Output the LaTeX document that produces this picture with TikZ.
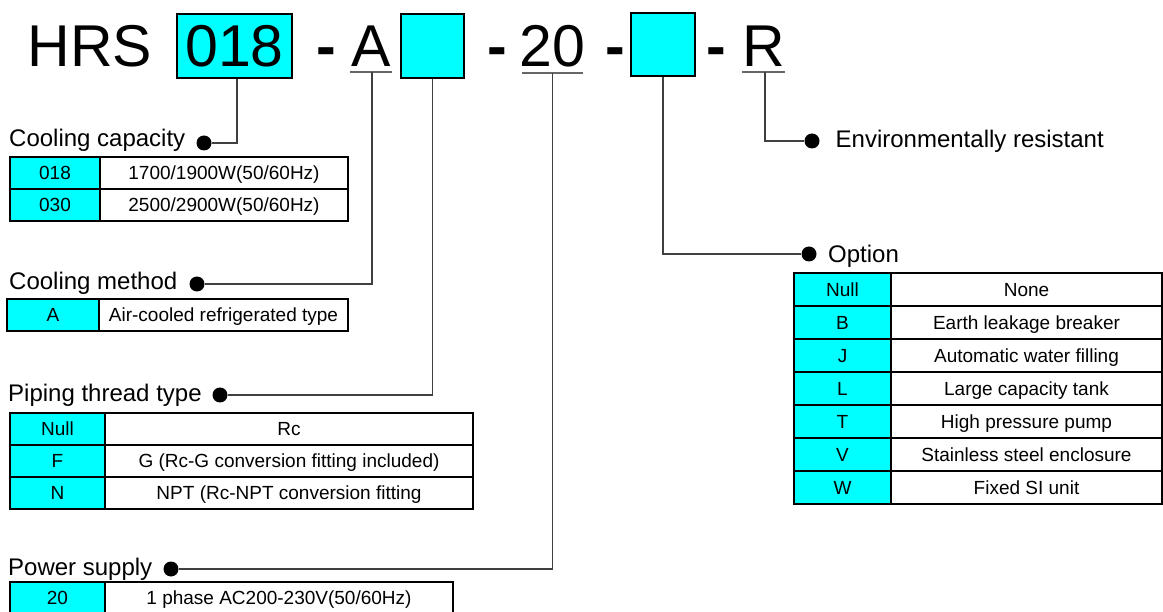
\documentclass[tikz,border=0pt]{standalone}
\usepackage{fontspec}
\setmainfont{Liberation Sans}
\usetikzlibrary{positioning}
\definecolor{codecyan}{HTML}{00FFFF}
\definecolor{linkgray}{HTML}{404040}
\tikzset{
  big/.style={font=\fontsize{59}{64}\selectfont, inner sep=0, anchor=base},
  sep/.style={big, font=\fontsize{59}{64}\selectfont\bfseries},
  codebox/.style={draw=black, fill=codecyan, line width=1.5, inner sep=0},
  title/.style={font=\fontsize{24}{28}\selectfont, inner sep=0, anchor=base west},
  dot/.style={circle, fill=black, inner sep=0, minimum size=15},
  link/.style={draw=linkgray, line width=1.3},
  uline/.style={draw=linkgray!80, line width=2},
  keycell/.style={draw=black, fill=codecyan, line width=1.6, inner sep=0, outer sep=0,
    minimum height=32, text height=13.5, text depth=0,
    font=\fontsize{19}{22}\selectfont},
  desccell/.style={keycell, fill=white},
}
\begin{document}
\begin{tikzpicture}[x=1pt, y=-1pt]
  \useasboundingbox (0,0) rectangle (1163,612);
  % model code
  \node[big, anchor=base west] (hrs) at (27.5,67) {HRS};
  \node[codebox, minimum width=115, minimum height=64,
    font=\fontsize{59}{64}\selectfont] (c018) at (234.5,46) {018};
  \node[sep] (d1) at (326.5,67) {-};
  \node[big] (nA) at (371,67) {A};
  \node[codebox, minimum width=63, minimum height=64] (box2) at (432.5,46) {};
  \node[sep] (d2) at (497.5,67) {-};
  \node[big] (n20) at (552.5,67) {20};
  \node[sep] (d3) at (615,67) {-};
  \node[codebox, minimum width=64, minimum height=63] (box3) at (663,44.5) {};
  \node[sep] (d4) at (716.5,67) {-};
  \node[big] (nR) at (763.5,67) {R};
  \draw[uline] ([xshift=-1.3pt,yshift=-5pt]nA.base west) -- ([xshift=1.3pt,yshift=-5pt]nA.base east);
  \draw[uline] ([xshift=3pt,yshift=-6pt]n20.base west) -- ([xshift=-3pt,yshift=-6pt]n20.base east);
  \draw[uline] ([yshift=-5pt]nR.base west) -- ([yshift=-5pt]nR.base east);
  \coordinate (uA) at ([xshift=1pt,yshift=-5pt]nA.base);
  \coordinate (u20) at ([yshift=-6pt]n20.base);
  \coordinate (uR) at ([xshift=1.5pt,yshift=-5pt]nR.base);

  % titles and dots
  \node[title] (tcap) at (9,147) {Cooling capacity};
  \node[dot] (dcap) at (204,143) {};
  \node[title] (tmeth) at (9,290) {Cooling method};
  \node[dot] (dmeth) at (197,284) {};
  \node[title] (tpipe) at (8,402) {Piping thread type};
  \node[dot] (dpipe) at (220,395) {};
  \node[title] (tpow) at (8,575) {Power supply};
  \node[dot] (dpow) at (171,569) {};
  \node[title] (topt) at (828,263) {Option};
  \node[dot] (dopt) at (809,254) {};
  \node[title] (tenv) at (835.5,148) {Environmentally resistant};
  \node[dot] (denv) at (812,141) {};

  % connectors
  \draw[link] ([xshift=2.5pt]c018.south) |- (dcap);
  \draw[link] (uA) |- (dmeth);
  \draw[link] (box2.south) |- (dpipe);
  \draw[link] (u20) |- (dpow);
  \draw[link] (box3.south) |- (dopt);
  \draw[link] (uR) |- (denv);

  % cooling capacity
  \node[keycell, minimum width=90, anchor=north west] (cap1k) at (10,157) {018};
  \node[desccell, minimum width=248, right=0pt of cap1k] (cap1d) {1700/1900W(50/60Hz)};
  \node[keycell, minimum width=90, below=0pt of cap1k] (cap2k) {030};
  \node[desccell, minimum width=248, right=0pt of cap2k] (cap2d) {2500/2900W(50/60Hz)};

  % cooling method
  \node[keycell, minimum width=92, anchor=north west] (meth1k) at (7,299) {A};
  \node[desccell, minimum width=249, right=0pt of meth1k] (meth1d) {Air-cooled refrigerated type};

  % piping thread type
  \node[keycell, minimum width=95, anchor=north west] (pipe1k) at (10,413) {Null};
  \node[desccell, minimum width=368, right=0pt of pipe1k] (pipe1d) {Rc};
  \node[keycell, minimum width=95, below=0pt of pipe1k] (pipe2k) {F};
  \node[desccell, minimum width=368, right=0pt of pipe2k] (pipe2d) {G (Rc-G conversion fitting included)};
  \node[keycell, minimum width=95, below=0pt of pipe2k] (pipe3k) {N};
  \node[desccell, minimum width=368, right=0pt of pipe3k] (pipe3d) {NPT (Rc-NPT conversion fitting};

  % power supply
  \node[keycell, minimum width=95, anchor=north west] (pow1k) at (10,582) {20};
  \node[desccell, minimum width=348, right=0pt of pow1k] (pow1d) {1 phase AC200-230V(50/60Hz)};

  % option
  \node[keycell, minimum width=97, minimum height=33, anchor=north west] (opt1k) at (794,273) {Null};
  \node[desccell, minimum width=271, minimum height=33, right=0pt of opt1k] (opt1d) {None};
  \node[keycell, minimum width=97, minimum height=33, below=0pt of opt1k] (opt2k) {B};
  \node[desccell, minimum width=271, minimum height=33, right=0pt of opt2k] (opt2d) {Earth leakage breaker};
  \node[keycell, minimum width=97, minimum height=33, below=0pt of opt2k] (opt3k) {J};
  \node[desccell, minimum width=271, minimum height=33, right=0pt of opt3k] (opt3d) {Automatic water filling};
  \node[keycell, minimum width=97, minimum height=33, below=0pt of opt3k] (opt4k) {L};
  \node[desccell, minimum width=271, minimum height=33, right=0pt of opt4k] (opt4d) {Large capacity tank};
  \node[keycell, minimum width=97, minimum height=33, below=0pt of opt4k] (opt5k) {T};
  \node[desccell, minimum width=271, minimum height=33, right=0pt of opt5k] (opt5d) {High pressure pump};
  \node[keycell, minimum width=97, minimum height=33, below=0pt of opt5k] (opt6k) {V};
  \node[desccell, minimum width=271, minimum height=33, right=0pt of opt6k] (opt6d) {Stainless steel enclosure};
  \node[keycell, minimum width=97, minimum height=33, below=0pt of opt6k] (opt7k) {W};
  \node[desccell, minimum width=271, minimum height=33, right=0pt of opt7k] (opt7d) {Fixed SI unit};
\end{tikzpicture}
\end{document}
